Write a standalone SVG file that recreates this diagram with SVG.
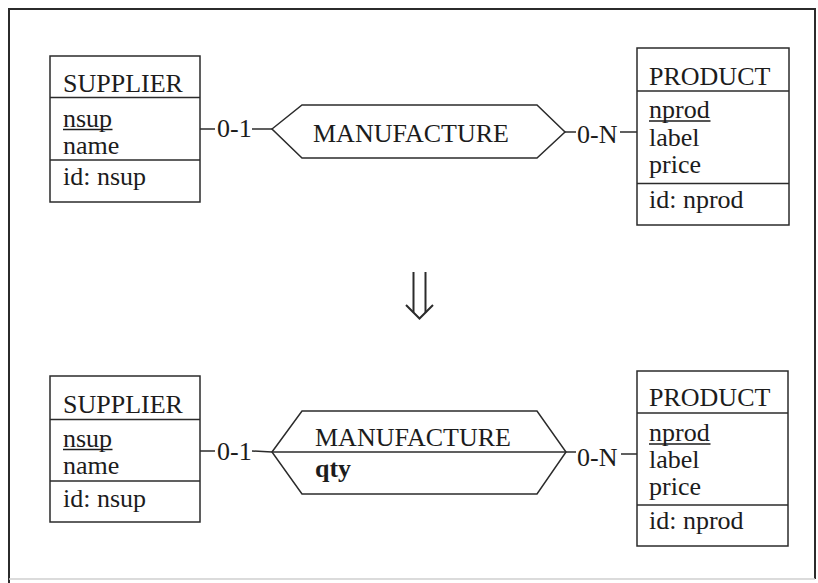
<svg xmlns="http://www.w3.org/2000/svg" width="818" height="583" viewBox="0 0 818 583">
  <style>
    .frame { fill: none; stroke: #2b2b2b; stroke-width: 2; }
    .box { fill: #ffffff; stroke: #2b2b2b; stroke-width: 1.5; }
    .rule { stroke: #2b2b2b; stroke-width: 1.5; }
    .link { fill: none; stroke: #2b2b2b; stroke-width: 1.5; }
    .arrow { fill: none; stroke: #2b2b2b; stroke-width: 2; stroke-linejoin: miter; }
    text { font-family: "Liberation Serif", "Times New Roman", serif; font-size: 26px; fill: #1c1c1c; }
    .bold { font-weight: bold; }
  </style>

  <rect width="818" height="583" fill="#ffffff"/>
  <!-- outer frame -->
  <path class="frame" d="M9,583 L9,9 L815,9 L815,579"/>
  <line x1="9" y1="579" x2="815" y2="579" stroke="#cfcfcf" stroke-width="1.5"/>

  <!-- connectors: upper schema -->
  <g id="connectors">
    <line class="link" x1="200" y1="129" x2="215" y2="129"/>
    <text x="217" y="137">0-1</text>
    <line class="link" x1="252" y1="129" x2="272" y2="129"/>

    <line class="link" x1="565" y1="132" x2="576" y2="132"/>
    <text x="577" y="143">0-N</text>
    <line class="link" x1="620" y1="132" x2="637" y2="132"/>

    <!-- lower schema -->
    <line class="link" x1="200" y1="451" x2="215" y2="451"/>
    <text x="217" y="460">0-1</text>
    <line class="link" x1="252" y1="451" x2="272" y2="452"/>

    <line class="link" x1="566" y1="452" x2="576" y2="452"/>
    <text x="577" y="466">0-N</text>
    <line class="link" x1="621" y1="454" x2="637" y2="454"/>
  </g>

  <!-- upper schema -->
  <g id="supplier-1">
    <rect class="box" x="50" y="56" width="150" height="146"/>
    <line class="rule" x1="50" y1="97.5" x2="200" y2="97.5"/>
    <line class="rule" x1="50" y1="160" x2="200" y2="160"/>
    <text x="63" y="92">SUPPLIER</text>
    <text x="63" y="127">nsup</text>
    <line x1="63" y1="129.5" x2="112.5" y2="129.5" stroke="#1c1c1c" stroke-width="1.3"/>
    <text x="63" y="154">name</text>
    <text x="63" y="185">id: nsup</text>
  </g>

  <g id="manufacture-1">
    <polygon class="box" points="272,129 302,105 537,105 565,132 537,158 302,158"/>
    <text x="313" y="142">MANUFACTURE</text>
  </g>

  <g id="product-1">
    <rect class="box" x="637" y="48" width="152" height="177"/>
    <line class="rule" x1="637" y1="91" x2="789" y2="91"/>
    <line class="rule" x1="637" y1="183.5" x2="789" y2="183.5"/>
    <text x="649" y="85">PRODUCT</text>
    <text x="649" y="118">nprod</text>
    <line x1="649" y1="121" x2="710.5" y2="121" stroke="#1c1c1c" stroke-width="1.3"/>
    <text x="649" y="146">label</text>
    <text x="649" y="173">price</text>
    <text x="649" y="208">id: nprod</text>
  </g>

  <!-- transformation arrow -->
  <g id="transform-arrow">
    <line class="arrow" x1="413.5" y1="272" x2="413.5" y2="312.5"/>
    <line class="arrow" x1="425.5" y1="272" x2="425.5" y2="312.5"/>
    <polyline class="arrow" points="406,305 419.5,318.5 433,305"/>
  </g>

  <!-- lower schema -->
  <g id="supplier-2">
    <rect class="box" x="50" y="376" width="150" height="146"/>
    <line class="rule" x1="50" y1="419.5" x2="200" y2="419.5"/>
    <line class="rule" x1="50" y1="481" x2="200" y2="481"/>
    <text x="63" y="413">SUPPLIER</text>
    <text x="63" y="447">nsup</text>
    <line x1="63" y1="449.5" x2="112.5" y2="449.5" stroke="#1c1c1c" stroke-width="1.3"/>
    <text x="63" y="474">name</text>
    <text x="63" y="507">id: nsup</text>
  </g>

  <g id="manufacture-2">
    <polygon class="box" points="272,452 302,411 537,411 566,452 537,494 302,494"/>
    <line class="rule" x1="272" y1="452" x2="566" y2="452"/>
    <text x="315" y="446">MANUFACTURE</text>
    <text class="bold" x="315" y="477">qty</text>
  </g>

  <g id="product-2">
    <rect class="box" x="637" y="371" width="151" height="175"/>
    <line class="rule" x1="637" y1="413" x2="788" y2="413"/>
    <line class="rule" x1="637" y1="505" x2="788" y2="505"/>
    <text x="649" y="406">PRODUCT</text>
    <text x="649" y="441">nprod</text>
    <line x1="649" y1="444" x2="710.5" y2="444" stroke="#1c1c1c" stroke-width="1.3"/>
    <text x="649" y="468">label</text>
    <text x="649" y="495">price</text>
    <text x="649" y="529">id: nprod</text>
  </g>
</svg>
